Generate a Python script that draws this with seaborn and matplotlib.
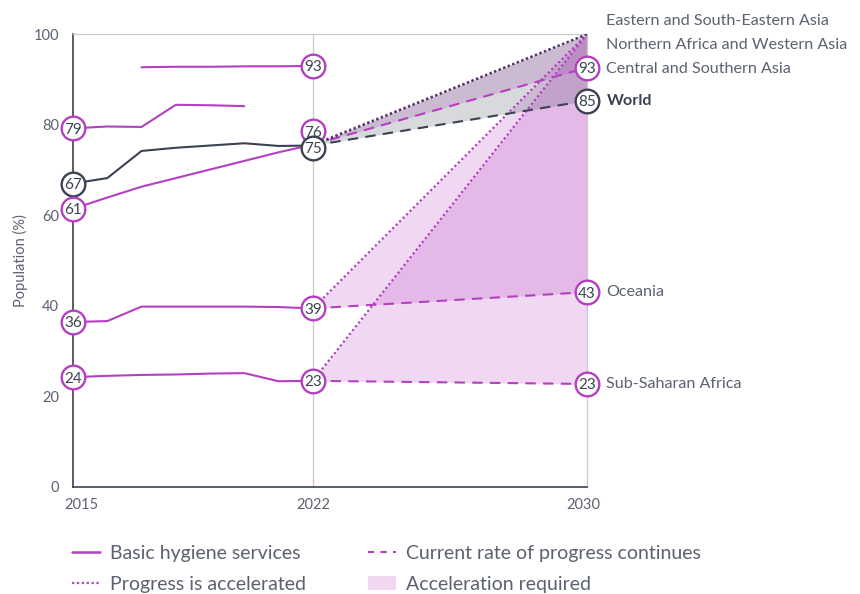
import matplotlib
matplotlib.use("Agg")
import matplotlib.pyplot as plt
from matplotlib.lines import Line2D
from matplotlib.patches import Patch
import matplotlib.transforms as mtransforms
import seaborn as sns
import pandas as pd
import numpy as np

# ---------------- data ----------------
years = [2015, 2016, 2017, 2018, 2019, 2020, 2021, 2022]
world = [67.0, 68.2, 74.2, 74.9, 75.4, 75.9, 75.3, 75.4]
csa = [61.4, 63.9, 66.3, 68.2, 70.1, 72.0, 73.9, 75.6]
oceania = [36.4, 36.6, 39.8, 39.8, 39.8, 39.8, 39.7, 39.4]
ssa = [24.2, 24.5, 24.7, 24.8, 25.0, 25.1, 23.3, 23.4]
nawa_years = [2015, 2016, 2017, 2018, 2019, 2020]
nawa = [79.2, 79.6, 79.5, 84.4, 84.3, 84.1]
esea_years = [2017, 2018, 2019, 2020, 2021, 2022]
esea = [92.7, 92.8, 92.8, 92.9, 92.9, 93.0]

proj_years = [2022, 2030]
target_2030 = 100
current_2030 = {"World": 85.3, "Central and Southern Asia": 92.6,
                "Oceania": 43.0, "Sub-Saharan Africa": 22.7}

right_labels = ["Eastern and South-Eastern Asia", "Northern Africa and Western Asia",
                "Central and Southern Asia", "World", "Oceania", "Sub-Saharan Africa"]
legend_labels = ["Basic hygiene services", "Progress is accelerated",
                 "Current rate of progress continues", "Acceleration required"]
xticks = [2015, 2022, 2030]
yticks = [0, 20, 40, 60, 80, 100]

# ---------------- style ----------------
PURPLE = "#b43fc1"
DARK = "#3b4252"
TEXT = "#5b6170"
GRID = "#c9c9cc"

sns.set_style("white")
plt.rcParams["font.family"] = ["Lato", "DejaVu Sans"]

fig = plt.figure(figsize=(8.6, 5.94), dpi=100)
ax = fig.add_axes([73 / 860, 1 - 486.7 / 594, (587 - 73) / 860, (486.7 - 34.2) / 594])

series = {
    "World": (years, world),
    "Central and Southern Asia": (years, csa),
    "Oceania": (years, oceania),
    "Sub-Saharan Africa": (years, ssa),
    "Northern Africa and Western Asia": (nawa_years, nawa),
    "Eastern and South-Eastern Asia": (esea_years, esea),
}
rows = []
for name, (xs, ys) in series.items():
    for x, y in zip(xs, ys):
        rows.append({"region": name, "year": x, "value": y})
hist = pd.DataFrame(rows)
palette = {n: (DARK if n == "World" else PURPLE) for n in series}

# fills (acceleration required)
for name in ["Sub-Saharan Africa", "Oceania", "Central and Southern Asia", "World"]:
    start = series[name][1][-1]
    acc = [start, target_2030]
    cur = [start, current_2030[name]]
    col = DARK if name == "World" else PURPLE
    ax.fill_between(proj_years, cur, acc, color=col, alpha=0.2, linewidth=0, zorder=1)

# projections
for name in ["Sub-Saharan Africa", "Oceania", "Central and Southern Asia", "World"]:
    start = series[name][1][-1]
    col = DARK if name == "World" else PURPLE
    pdf_acc = pd.DataFrame({"year": proj_years, "value": [start, target_2030]})
    pdf_cur = pd.DataFrame({"year": proj_years, "value": [start, current_2030[name]]})
    sns.lineplot(data=pdf_acc, x="year", y="value", ax=ax, color=col, lw=1.6,
                 linestyle=(0, (1, 1.2)), zorder=3)
    sns.lineplot(data=pdf_cur, x="year", y="value", ax=ax, color=col, lw=1.5,
                 linestyle=(0, (5, 3.5)), zorder=3)

# historical lines
sns.lineplot(data=hist, x="year", y="value", hue="region", palette=palette,
             units="region", estimator=None, legend=False, ax=ax, lw=1.5, zorder=4)


def circle(x, y, label, col, dy=0.0):
    ax.scatter([x], [y + dy], s=290, facecolor="white", edgecolor=col,
               linewidth=1.7, zorder=6, clip_on=False)
    ax.text(x, y + dy, label, ha="center", va="center_baseline", fontsize=11,
            color=DARK, zorder=7, clip_on=False)


# start circles
circle(2015, nawa[0], f"{round(nawa[0])}", PURPLE)
circle(2015, world[0], f"{round(world[0])}", DARK)
circle(2015, csa[0], f"{round(csa[0])}", PURPLE)
circle(2015, oceania[0], f"{round(oceania[0])}", PURPLE)
circle(2015, ssa[0], f"{round(ssa[0])}", PURPLE)
# 2022 circles
circle(2022, esea[-1], f"{round(esea[-1])}", PURPLE)
circle(2022, csa[-1], f"{round(csa[-1])}", PURPLE, dy=3.0)
circle(2022, world[-1], f"{round(world[-1])}", DARK, dy=-0.5)
circle(2022, oceania[-1], f"{round(oceania[-1])}", PURPLE)
circle(2022, ssa[-1], f"{round(ssa[-1])}", PURPLE)
# 2030 circles
for name, v in current_2030.items():
    circle(2030, v, f"{round(v)}", DARK if name == "World" else PURPLE)

# right labels
label_pos = [102.9, 97.6, current_2030["Central and Southern Asia"] - 0.4,
             current_2030["World"], current_2030["Oceania"],
             current_2030["Sub-Saharan Africa"]]
for lab, v in zip(right_labels, label_pos):
    bold = lab == "World"
    ax.annotate(lab, xy=(2030, v), xytext=(14, 0), textcoords="offset points",
                va="center", ha="left", fontsize=11.6,
                color=DARK if bold else TEXT,
                fontweight="bold" if bold else "normal", annotation_clip=False)

# axes styling
ax.set_xlim(2015, 2030)
ax.set_ylim(0, 100)
ax.set_xticks(xticks)
ax.set_xticklabels([str(t) for t in xticks])
ax.set_yticks(yticks)
ax.set_xlabel("")
ax.set_ylabel("Population (%)", fontsize=10.5, color=TEXT, labelpad=4)
ax.axvline(2022, color=GRID, lw=0.9, zorder=0)
for s in ["left", "bottom"]:
    ax.spines[s].set_color(DARK)
    ax.spines[s].set_linewidth(1.2)
for s in ["top", "right"]:
    ax.spines[s].set_color(GRID)
    ax.spines[s].set_linewidth(0.9)
ax.tick_params(axis="both", direction="in", length=4, width=1.2, color=DARK,
               labelcolor=TEXT, labelsize=10.5)
ax.tick_params(axis="y", pad=10)
ax.tick_params(axis="x", pad=8)

# nudge first / last x tick labels like the reference
xlabs = ax.get_xticklabels()
xlabs[0].set_transform(xlabs[0].get_transform() +
                       mtransforms.ScaledTranslation(8 / 100, 0, fig.dpi_scale_trans))
xlabs[-1].set_transform(xlabs[-1].get_transform() +
                        mtransforms.ScaledTranslation(-4 / 100, 0, fig.dpi_scale_trans))

# legend
handles = [
    Line2D([0], [0], color=PURPLE, lw=1.8),
    Line2D([0], [0], color=PURPLE, lw=1.6, linestyle=(0, (1, 1.2))),
    Line2D([0], [0], color=PURPLE, lw=1.5, linestyle=(0, (3, 3))),
    Patch(facecolor=PURPLE, alpha=0.2, edgecolor="none"),
]
fig.legend(handles, legend_labels, ncol=2, loc="upper left",
           bbox_to_anchor=(72 / 860, 1 - 545 / 594), frameon=False,
           fontsize=14, labelcolor=TEXT, handlelength=1.45, handletextpad=0.5,
           columnspacing=3.2, labelspacing=0.72, borderpad=0, borderaxespad=0)

fig.savefig("out.png", dpi=100)
